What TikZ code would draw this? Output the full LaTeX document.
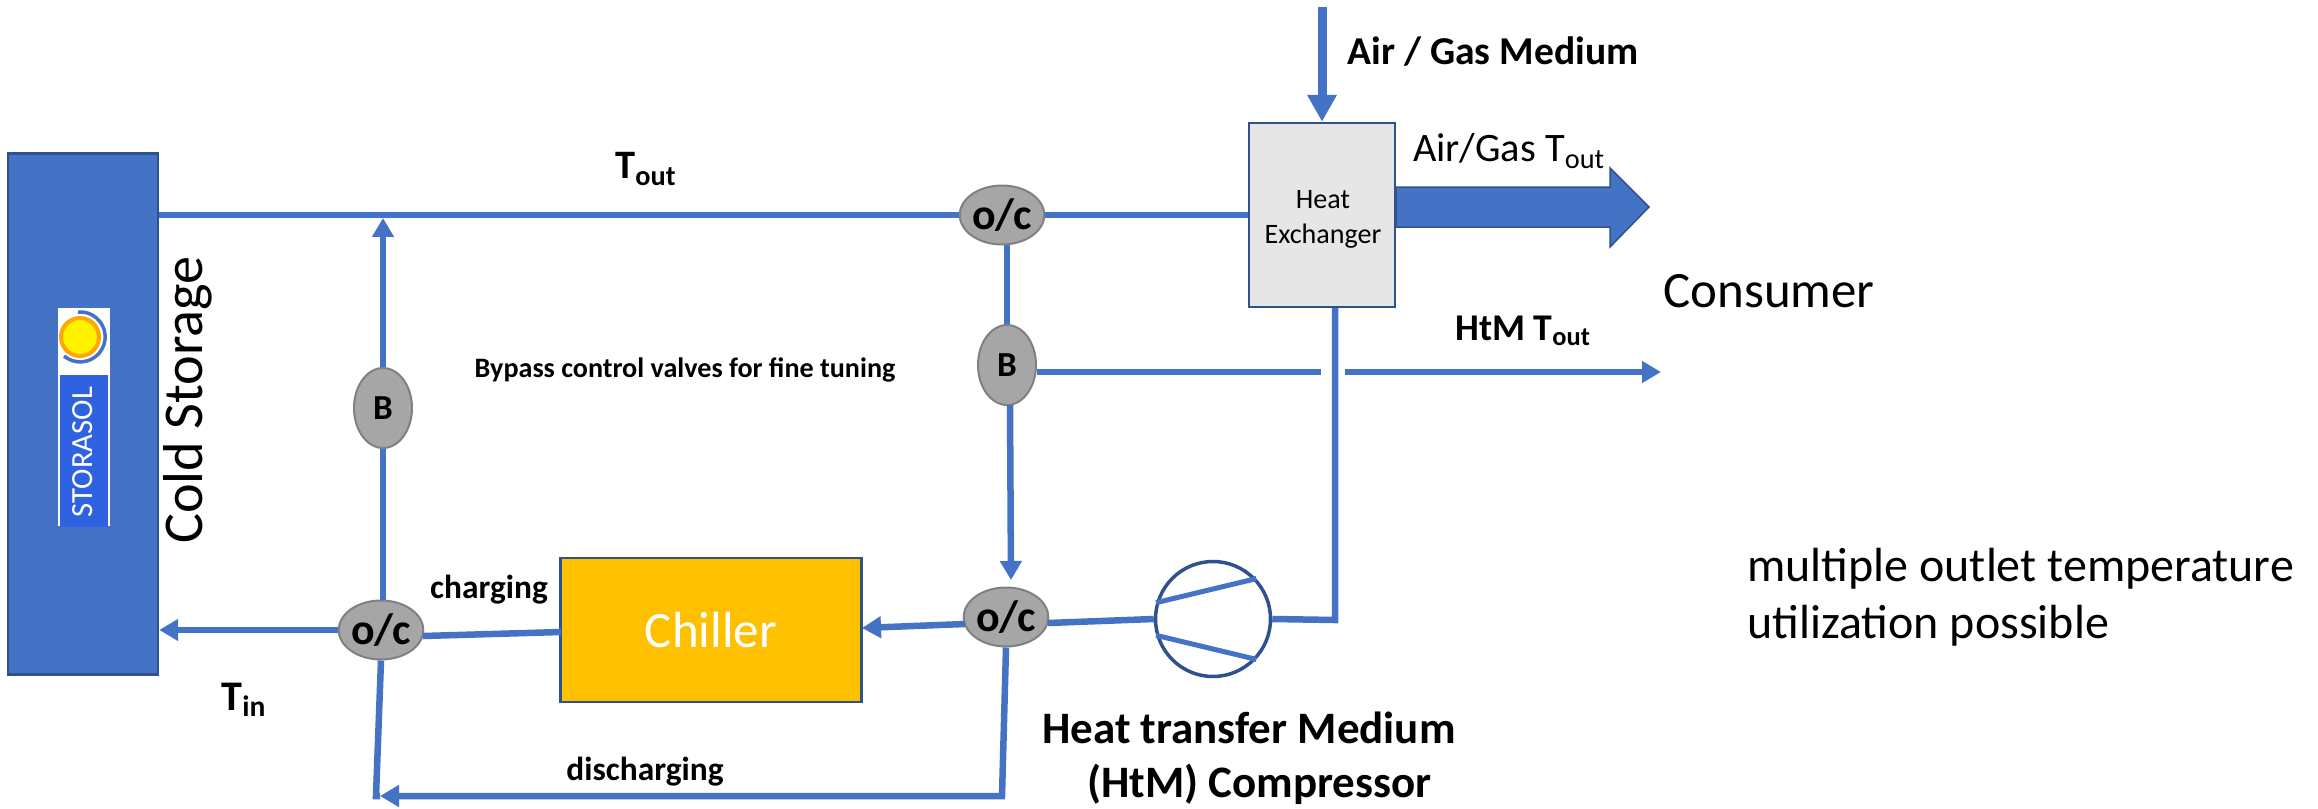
\documentclass[tikz,border=0pt]{standalone}
\usepackage{fontspec}
\setmainfont{Carlito}
\usetikzlibrary{shapes.geometric, arrows.meta, positioning, calc}
\definecolor{pipeblue}{HTML}{4472C4}
\definecolor{edgeblue}{HTML}{2F528F}
\definecolor{valvegray}{HTML}{A6A6A6}
\definecolor{hxgray}{HTML}{E7E6E6}
\definecolor{chillerorange}{HTML}{FFC000}
\definecolor{logoblue}{HTML}{2F62E0}
\newcommand{\fsize}[1]{\fontsize{#1}{#1}\selectfont}

\begin{document}
\begin{tikzpicture}[
    x=0.02cm, y=-0.02cm,
    box/.style={draw=edgeblue, line width=0.05cm, inner sep=0pt, align=center},
    valve/.style={ellipse, draw=gray, line width=0.04cm, fill=valvegray, inner sep=0pt, font=\fsize{20}\bfseries},
    ocvalve/.style={valve, minimum width=1.68cm, minimum height=1.18cm, font=\fsize{25}\bfseries},
    bvalve/.style={valve, minimum width=1.16cm, minimum height=1.6cm},
    pipe/.style={draw=pipeblue, line width=0.13cm},
    arr/.style={pipe, -{Triangle[length=0.38cm, width=0.42cm]}},
    lbl/.style={inner sep=0pt, align=center}
]
    \useasboundingbox (0,0) rectangle (2318,808);

    % ===== Boxes =====
    \node[box, fill=pipeblue, minimum width=3cm, minimum height=10.42cm] (store) at (83,414) {};
    \node[box, fill=hxgray, minimum width=2.92cm, minimum height=3.68cm] (hx) at (1322,215) {};
    \node[box, fill=chillerorange, minimum width=6.02cm, minimum height=2.88cm, text=white, font=\fsize{29}] (chiller) at (711,630) {Chiller};
    \node[circle, draw=edgeblue, line width=0.07cm, minimum size=2.3cm, inner sep=0pt] (comp) at (1213,619) {};

    % ===== Valves =====
    \node[ocvalve] (octop) at (1002,215) {o/c};
    \node[ocvalve] (ocright) at (1006,617) {o/c};
    \node[ocvalve] (ocleft) at (381,630) {o/c};
    \node[bvalve] (bleft) at (383,408) {B};
    \node[bvalve] (bright) at (1007,365) {B};

    % ===== Logo =====
    \node[fill=white, minimum width=1.04cm, minimum height=4.38cm, inner sep=0pt] (logo) at (84,417) {};
    \node[fill=logoblue, minimum width=0.98cm, minimum height=3.06cm, inner sep=0pt] (logotxt) at (84,451) {};
    \node[rotate=90, text=white, inner sep=0pt, font=\fsize{17.5}] (logoname) at (83,452) {STORASOL};
    \node[circle, fill=yellow, draw=orange!70!yellow, line width=0.08cm, minimum size=0.76cm, inner sep=0pt] (sun) at (80,337) {};
    \draw[draw=pipeblue, line width=0.07cm] (78,312) arc[start angle=-95, end angle=130, radius=25];

    % ===== Pipes =====
    \coordinate (airtop) at (1322,7);
    \coordinate (tipleft) at (383,218);
    \coordinate (bendbot) at (376,796);
    \coordinate (bendright) at (1002,796);
    \coordinate (tipbot) at (380,796);
    \coordinate (bendcomp) at (1335,620);
    \coordinate (htmgapl) at (1321,372);
    \coordinate (htmgapr) at (1345,372);
    \coordinate (htmend) at (1661,372);
    \coordinate (brightout) at (1010,405);
    \coordinate (brighttip) at (1011,580);
    \coordinate (chilltip) at (862,628);
    \coordinate (ocout) at (965,624);
    \coordinate (ocin) at (1048,623);
    \coordinate (ocleftin) at (423,636);
    \coordinate (chillout) at (561,632);

    \draw[pipe, line width=0.18cm, -{Triangle[length=0.54cm, width=0.56cm]}] (airtop) -- (hx.north);
    \draw[pipe] (octop) -- (octop -| store.east);
    \draw[pipe] (octop.east) -- (octop -| hx.west);
    \draw[pipe] (octop.south -| bright.north) -- (bright.north);
    \draw[arr] (brightout) -- (brighttip);
    \draw[pipe] (bright.east |- htmgapl) -- (htmgapl);
    \draw[arr] (htmgapr) -- (htmend);
    \draw[pipe] (comp.east) -- (bendcomp) -- (bendcomp |- hx.south);
    \draw[pipe] (ocin) -- (comp.west);
    \draw[arr] (ocout) -- (chilltip);
    \draw[pipe] (chillout) -- (ocleftin);
    \draw[arr] (ocleft.west) -- (ocleft -| store.east);
    \draw[pipe] (ocleft.north -| bleft.south) -- (bleft.south);
    \draw[arr] (bleft.north) -- (tipleft);
    \draw[pipe] (ocleft.south) -- (bendbot) -- (tipbot);
    \draw[arr] (ocright.south) -- (bendright) -- (tipbot);
    \draw[pipe, line width=0.1cm] (comp.164) -- (comp.43);
    \draw[pipe, line width=0.1cm] (comp.196) -- (comp.-43);
    \draw[draw=edgeblue, fill=pipeblue, line width=0.03cm] (1396,187) -- (1610,187) -- (1610,168) -- (1649,207) -- (1610,247) -- (1610,227) -- (1396,227) -- cycle;

    % ===== Labels =====
    \node[lbl, font=\fsize{16}] (hxlbl) at (1323,219) {Heat\\[4pt]Exchanger};
    \node[lbl, rotate=90, font=\fsize{32}] (coldlbl) at (188,400) {Cold Storage};
    \node[lbl, font=\fsize{23}\bfseries] (toutlbl) at (646,169) {T\textsubscript{out}};
    \node[lbl, font=\fsize{24}\bfseries] (tinlbl) at (244,700) {T\textsubscript{in}};
    \node[lbl, font=\fsize{22.5}\bfseries] (airlbl) at (1493,52) {Air / Gas Medium};
    \node[lbl, font=\fsize{23}] (gaslbl) at (1509,151) {Air/Gas T\textsubscript{out}};
    \node[lbl, font=\fsize{21.5}\bfseries] (htmlbl) at (1523,331) {HtM T\textsubscript{out}};
    \node[lbl, font=\fsize{29}] (consumerlbl) at (1769,291) {Consumer};
    \node[lbl, font=\fsize{16}\bfseries] (bypasslbl) at (685,370) {Bypass control valves for fine tuning};
    \node[lbl, font=\fsize{19}\bfseries] (chargelbl) at (489,590) {charging};
    \node[lbl, font=\fsize{19}\bfseries] (dischargelbl) at (645,772) {discharging};
    \node[lbl, font=\fsize{25.6}\bfseries] (complbl) at (1249,758) {Heat transfer Medium\\[5pt]\ \ (HtM) Compressor};
    \node[lbl, anchor=west, align=left, font=\fsize{27.3}] (notelbl) at (1747,597) {multiple outlet temperature\\[5pt]utilization possible};
\end{tikzpicture}
\end{document}
